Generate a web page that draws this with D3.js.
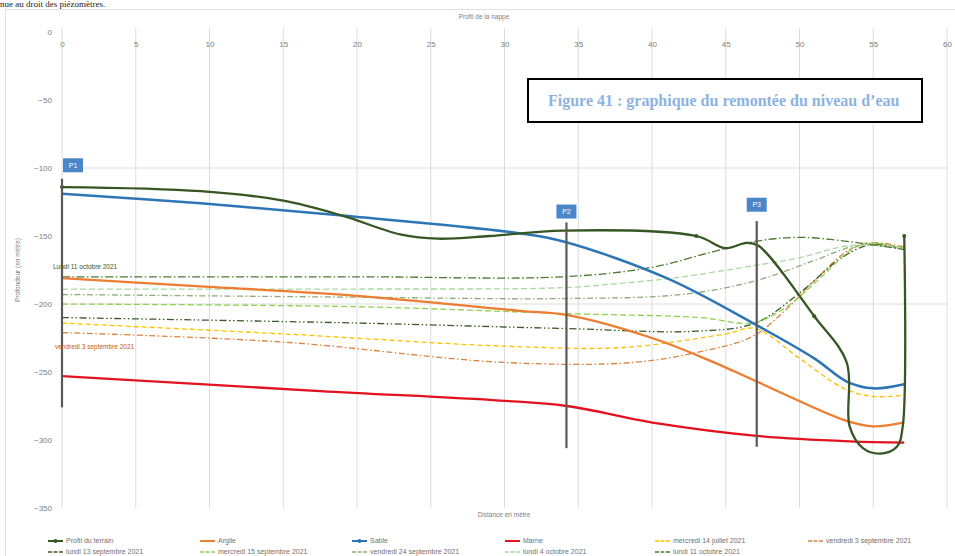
<!DOCTYPE html>
<html>
<head>
<meta charset="utf-8">
<script src="https://cdn.jsdelivr.net/npm/d3@7/dist/d3.min.js"></script>
<style>
  body { margin: 0; background: #fff; }
  svg { display: block; }
</style>
</head>
<body>
<svg></svg>
<script>
// ticks
var xTicks = d3.range(0, 61, 5)
var yTicks = d3.range(0, -351, -50)
var yGrid = [-100, -200]

// solid series [distance, niveau]
var terrain = [[0,-114],[9.4,-117],[15,-124],[19,-135],[23,-149],[25.5,-152],[29,-150],[34,-146],[43,-150],[45,-159],[46.4,-155],[47.2,-157],[51,-209],[53.2,-243],[53.4,-290],[54.3,-306],[55.5,-310],[56.6,-305],[57,-290],[57.1,-150]]
var argile = [[0,-181],[9.4,-187],[20,-194],[31,-205],[34.2,-208],[40,-225],[44,-242],[47.1,-257],[53.2,-286],[55,-290],[57.1,-287]]
var sable = [[0,-119],[9.4,-126],[19,-135],[31,-148],[34,-154],[41,-181],[47,-215],[51,-240],[53.2,-257],[55,-262],[57.1,-259]]
var marne = [[0,-253],[17.5,-264],[29.7,-271],[34.2,-275],[40.5,-288],[47.1,-297],[53.4,-301],[57.1,-302]]

// water level readings
var jul14 = [[0,-214],[15,-222],[30,-231],[38,-232],[45,-222],[47,-218],[50,-240],[53,-262],[55,-268],[57.1,-267]]
var sep03 = [[0,-221],[15,-228],[30,-243],[38.7,-243],[43.3,-235],[46.8,-224],[49,-205],[51,-183],[53.4,-160],[55,-155],[57.1,-158]]
var sep13 = [[0,-210],[20,-214],[34,-218],[43,-220],[47,-214],[50,-192],[53,-165],[55,-156],[57.1,-160]]
var sep15 = [[0,-200],[20,-202],[34,-207],[43.3,-210],[46.8,-214],[49,-203],[51.2,-183],[53.4,-161],[54.6,-155],[57.1,-159]]
var sep24 = [[0,-193],[20,-195],[34,-196],[42,-193],[47,-183],[51,-168],[54,-157],[57.1,-159]]
var oct04 = [[0,-189],[20,-189],[34,-188],[37.6,-185],[41.4,-181],[46.8,-172],[50,-166],[53.4,-157],[57.1,-159]]
var oct11 = [[0,-180],[20,-180],[34,-180],[40,-173],[44,-162],[47,-154],[50,-151],[54,-155],[57.1,-160]]

// piezometers
var piezos = [
  {name:"P1", x:0, top:-108, bottom:-276, label:-98},
  {name:"P2", x:34.2, top:-140, bottom:-306, label:-132},
  {name:"P3", x:47.1, top:-139, bottom:-305, label:-127}
]

var series = [
  {name:"Profil du terrain", data:terrain, color:"#375623", width:2.3, dash:null, marker:true},
  {name:"Argile", data:argile, color:"#ed7d31", width:2.3, dash:null},
  {name:"Sable", data:sable, color:"#2e75b6", width:2.5, dash:null},
  {name:"Marne", data:marne, color:"#e3121f", width:2.3, dash:null},
  {name:"mercredi 14 juillet 2021", data:jul14, color:"#ffc000", width:1.3, dash:"5,3"},
  {name:"vendredi 3 septembre 2021", data:sep03, color:"#d9843f", width:1.3, dash:"6,2.5,1.5,2.5"},
  {name:"lundi 13 septembre 2021", data:sep13, color:"#3a5a28", width:1.3, dash:"7,2.5,1.5,2.5,1.5,2.5"},
  {name:"mercredi 15 septembre 2021", data:sep15, color:"#8fd14f", width:1.3, dash:"6,3"},
  {name:"vendredi 24 septembre 2021", data:sep24, color:"#8faa7a", width:1.3, dash:"6,2.5,1.5,2.5"},
  {name:"lundi 4 octobre 2021", data:oct04, color:"#a9d9a0", width:1.3, dash:"6,3"},
  {name:"lundi 11 octobre 2021", data:oct11, color:"#4e7a30", width:1.3, dash:"8,2.5,1.5,2.5"}
]

var svg = d3.select("svg").attr("width", 955).attr("height", 556)
var font = "'Liberation Sans', Arial, sans-serif"

// chart frame
svg.append("rect")
  .attr("x", 5.5).attr("y", 9.5)
  .attr("width", 980).attr("height", 600)
  .attr("fill", "#fff")
  .attr("stroke", "#e0e0e0")

// text line from the page above
svg.append("text")
  .attr("x", 0).attr("y", 7)
  .attr("font-family", "'Liberation Serif', serif")
  .attr("font-size", 9)
  .attr("fill", "#222")
  .text("nue au droit des piézomètres.")

var x = d3.scaleLinear().domain([0, 60]).range([62, 947])
var y = d3.scaleLinear().domain([0, -350]).range([32, 508])

// grid
svg.append("g").selectAll("line")
  .data(xTicks)
  .enter()
  .append("line")
  .attr("x1", function(d){ return x(d) })
  .attr("x2", function(d){ return x(d) })
  .attr("y1", y(0) - 4)
  .attr("y2", y(-350))
  .attr("stroke", "#dcdcdc")
  .attr("stroke-width", 1)

svg.append("g").selectAll("line")
  .data(yGrid)
  .enter()
  .append("line")
  .attr("x1", x(0)).attr("x2", x(60))
  .attr("y1", function(d){ return y(d) })
  .attr("y2", function(d){ return y(d) })
  .attr("stroke", "#dcdcdc")

// axes labels (no lines)
var xAxis = svg.append("g")
  .attr("transform", "translate(0," + (y(0) + 12) + ")")
  .call(d3.axisTop(x).tickValues(xTicks).tickSize(0).tickPadding(0))
xAxis.select(".domain").remove()
xAxis.selectAll("text").attr("font-family", font).attr("font-size", 8).attr("fill", "#808080")
  .attr("dy", "0.35em")

var yAxis = svg.append("g")
  .attr("transform", "translate(52,0)")
  .call(d3.axisLeft(y).tickValues(yTicks).tickSize(0).tickPadding(0))
yAxis.select(".domain").remove()
yAxis.selectAll("text").attr("font-family", font).attr("font-size", 8).attr("fill", "#808080")

// axis titles
svg.append("text").attr("x", 484).attr("y", 19)
  .attr("text-anchor", "middle").attr("font-family", font).attr("font-size", 6.5).attr("fill", "#808080")
  .text("Profil de la nappe")
svg.append("text").attr("x", 504).attr("y", 517)
  .attr("text-anchor", "middle").attr("font-family", font).attr("font-size", 6.5).attr("fill", "#808080")
  .text("Distance en mètre")
svg.append("text")
  .attr("transform", "translate(20,270) rotate(-90)")
  .attr("text-anchor", "middle").attr("font-family", font).attr("font-size", 6.5).attr("fill", "#808080")
  .text("Profondeur (en mètre)")

// lines
var line = d3.line()
  .x(function(d){ return x(d[0]) })
  .y(function(d){ return y(d[1]) })
  .curve(d3.curveCatmullRom.alpha(0.5))

var drawOrder = series.slice(4).concat([series[3], series[1], series[2], series[0]])
svg.append("g").selectAll("path")
  .data(drawOrder)
  .enter()
  .append("path")
  .attr("d", function(d){ return line(d.data) })
  .attr("fill", "none")
  .attr("stroke", function(d){ return d.color })
  .attr("stroke-width", function(d){ return d.width })
  .attr("stroke-dasharray", function(d){ return d.dash })
  .attr("stroke-linejoin", "round")

// terrain markers
svg.append("g").selectAll("circle")
  .data([terrain[0], terrain[8], terrain[12], terrain[terrain.length - 1]])
  .enter()
  .append("circle")
  .attr("cx", function(d){ return x(d[0]) })
  .attr("cy", function(d){ return y(d[1]) })
  .attr("r", 2)
  .attr("fill", "#375623")

// piezometers
var pz = svg.append("g")
pz.selectAll("line")
  .data(piezos)
  .enter()
  .append("line")
  .attr("x1", function(d){ return x(d.x) })
  .attr("x2", function(d){ return x(d.x) })
  .attr("y1", function(d){ return y(d.top) })
  .attr("y2", function(d){ return y(d.bottom) })
  .attr("stroke", "#595959")
  .attr("stroke-width", 2.2)

var boxes = pz.selectAll("g.box")
  .data(piezos)
  .enter()
  .append("g")
  .attr("class", "box")
  .attr("transform", function(d){
    var bx = d.x == 0 ? x(d.x) + 11 : x(d.x)
    return "translate(" + bx + "," + y(d.label) + ")"
  })
boxes.append("rect")
  .attr("x", -10).attr("y", -7)
  .attr("width", 20).attr("height", 14)
  .attr("fill", "#4a86c8")
boxes.append("text")
  .attr("text-anchor", "middle").attr("dy", "0.35em")
  .attr("font-family", font).attr("font-size", 7).attr("fill", "#fff")
  .text(function(d){ return d.name })

// series labels at the left
svg.append("text").attr("x", 53).attr("y", y(-180) - 8)
  .attr("font-family", font).attr("font-size", 6.5).attr("fill", "#375623")
  .text("Lundi 11 octobre 2021")
svg.append("text").attr("x", 55).attr("y", y(-231) + 3)
  .attr("font-family", font).attr("font-size", 6.5).attr("fill", "#c55a11")
  .text("vendredi 3 septembre 2021")

// figure caption
svg.append("rect")
  .attr("x", 528).attr("y", 79)
  .attr("width", 394).attr("height", 43)
  .attr("fill", "#fff")
  .attr("stroke", "#000").attr("stroke-width", 2)
svg.append("text")
  .attr("x", 548).attr("y", 106)
  .attr("font-family", "'Liberation Serif', 'Times New Roman', serif")
  .attr("font-weight", "bold").attr("font-size", 16)
  .attr("fill", "#8db3e2")
  .text("Figure 41 : graphique du remontée du niveau d’eau")

// legend
var legX = [48, 200, 352, 505, 655, 808]
var legend = svg.append("g").selectAll("g")
  .data(series)
  .enter()
  .append("g")
  .attr("transform", function(d, i){
    var row = i < 6 ? 0 : 1
    var col = i < 6 ? i : i - 6
    return "translate(" + legX[col] + "," + (row == 0 ? 541 : 552) + ")"
  })
legend.append("line")
  .attr("x1", 0).attr("x2", 15)
  .attr("stroke", function(d){ return d.color })
  .attr("stroke-width", function(d){ return d.dash ? 1.3 : 2 })
  .attr("stroke-dasharray", function(d){ return d.dash ? "4,1.5" : null })
legend.filter(function(d){ return d.marker || d.name == "Sable" })
  .append("circle").attr("cx", 7.5).attr("r", 2)
  .attr("fill", function(d){ return d.color })
legend.append("text")
  .attr("x", 18).attr("dy", "0.35em")
  .attr("font-family", font).attr("font-size", 7).attr("fill", "#707070")
  .text(function(d){ return d.name })
</script>
</body>
</html>
